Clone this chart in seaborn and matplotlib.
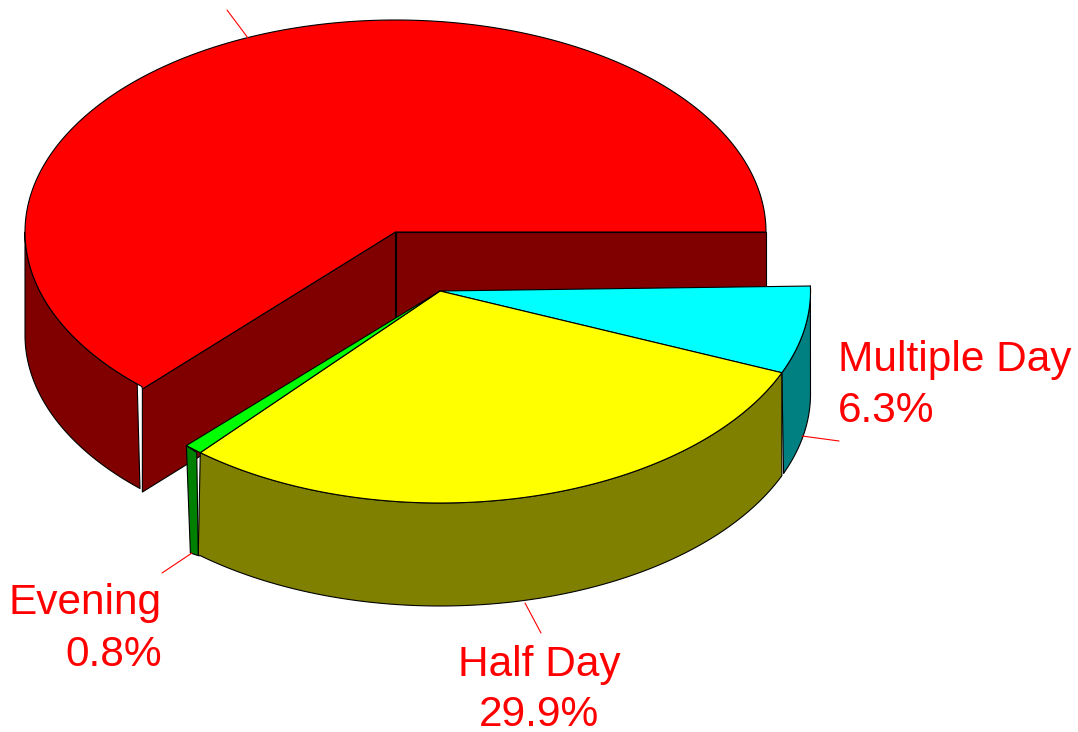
"""Exploded 3D pie of trip length shares, drawn from flat polygons."""

import matplotlib

matplotlib.use("Agg")
import matplotlib.pyplot as plt
import numpy as np
import seaborn as sns
from matplotlib.patches import Polygon

# shares of the pie, clockwise starting from the right hand side
slice_names = ["Multiple Day", "Half Day", "Evening"]
slice_shares = [6.3, 29.9, 0.8]
big_share = 63.0  # the label of this slice is cropped off in the original

top_colors = sns.color_palette(["#00ffff", "#ffff00", "#00ff00"])
wall_colors = sns.color_palette(["#008080", "#808000", "#008000"])
big_top = "#ff0000"
big_wall = "#800000"

RX, RY, DEPTH = 370.5, 212, 103
BIG_CENTER = (395.5, 232)
OUT_CENTER = (440, 291)


def rim(center, t_from, t_to, drop=0, n=120):
  t = np.radians(np.linspace(t_from, t_to, n))
  return np.column_stack([center[0] + RX * np.cos(t), center[1] + RY * np.sin(t) + drop])


def face(ax, pts, color):
  ax.add_patch(Polygon(pts, closed=True, facecolor=color, edgecolor="black", lw=0.8, joinstyle="round"))


def leader(ax, xs, ys):
  sns.lineplot(x=xs, y=ys, sort=False, estimator=None, color="#ff0000", lw=0.8, ax=ax, legend=False)


sns.set_theme(style="white")
plt.rcParams["font.family"] = ["Liberation Sans", "DejaVu Sans"]

fig, ax = plt.subplots(figsize=(10.78, 7.32), dpi=100)
fig.subplots_adjust(0, 0, 1, 1)
ax.set_xlim(0, 1078)
ax.set_ylim(732, 0)
ax.axis("off")

# big slice, runs counter clockwise from 0 so its end meets the others
big_end = 360 * (100 - big_share) / 100
center = np.array(BIG_CENTER, dtype=float)
end_pt = rim(BIG_CENTER, big_end, big_end, n=1)[0] + [0.5, 2.5]
right_pt = rim(BIG_CENTER, 0, 0, n=1)[0]
down = np.array([0, DEPTH])

face(ax, [center, right_pt, right_pt + down, center + down], big_wall)
face(ax, [center, end_pt, end_pt + down, center + down], big_wall)
face(ax, np.vstack([rim(BIG_CENTER, 180, big_end + 1.0), rim(BIG_CENTER, big_end + 0.4, 180, DEPTH)]), big_wall)
face(ax, np.vstack([center, rim(BIG_CENTER, 0, big_end - 360, n=300), end_pt]), big_top)

# pulled out slices: outer walls first, tops afterwards
edges = np.concatenate([[0], np.cumsum(slice_shares)]) * 3.6
apex = np.array(OUT_CENTER, dtype=float)

top_start = -1.35  # the first slice's upper edge tilts slightly in the original
face(ax, np.vstack([rim(OUT_CENTER, top_start, edges[1]), rim(OUT_CENTER, edges[1] - 0.7, 0, DEPTH)]), wall_colors[0])

half_bottom = rim(OUT_CENTER, edges[2], edges[1], DEPTH)
half_bottom = np.vstack([half_bottom[0] + [-2, 0], half_bottom])
face(ax, np.vstack([rim(OUT_CENTER, edges[1], edges[2]), half_bottom]), wall_colors[1])

eve_right = rim(OUT_CENTER, edges[2], edges[2], n=1)[0]
eve_left = rim(OUT_CENTER, edges[3], edges[3], n=1)[0]
face(ax, [eve_left, eve_right + [-3.5, 0], eve_right + [-2, DEPTH], eve_left + [4, DEPTH + 4.5]], wall_colors[2])

face(ax, np.vstack([apex, rim(OUT_CENTER, top_start, edges[1])]), top_colors[0])
face(ax, np.vstack([apex, rim(OUT_CENTER, edges[1], edges[2])]), top_colors[1])
face(ax, np.vstack([apex, rim(OUT_CENTER, edges[2], edges[3], n=10)]), top_colors[2])

# leaders and labels
leader(ax, [227, 248], [10, 38])
leader(ax, [802, 839], [436, 441])
leader(ax, [525, 541], [603, 633])
leader(ax, [192, 162], [553, 573])

label_font = dict(color="#ff0000", fontsize=30.5, va="baseline")
ax.text(838, 371, slice_names[0], ha="left", **label_font)
ax.text(838, 422, f"{slice_shares[0]}%", ha="left", **label_font)
ax.text(539, 676, slice_names[1], ha="center", **label_font)
ax.text(539, 726, f"{slice_shares[1]}%", ha="center", **label_font)
ax.text(162, 614, slice_names[2], ha="right", **label_font)
ax.text(162, 666, f"{slice_shares[2]}%", ha="right", **label_font)

fig.savefig("out.png", dpi=100)
plt.close(fig)
